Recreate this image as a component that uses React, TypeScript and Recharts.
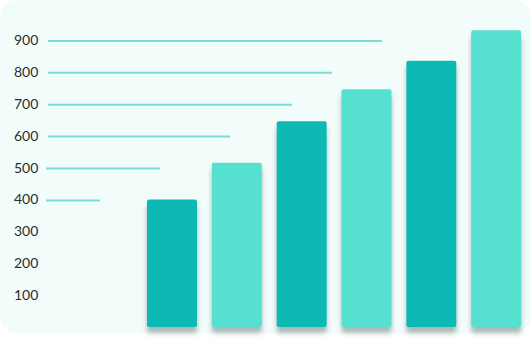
import React from "react";
import { BarChart, Bar, XAxis, YAxis, Cell } from "recharts";

const categories = ["A", "B", "C", "D", "E", "F"];
const values = [400, 515, 645, 745, 835, 930];
const yTicks = [100, 200, 300, 400, 500, 600, 700, 800, 900];

const DARK = "#0bbab3";
const LIGHT = "#57e0d0";
const LINE = "#7ddbd3";

// decorative guide line right ends (px), per tick value
const GUIDE_END: Record<number, number> = {
  900: 382,
  800: 332,
  700: 292,
  600: 230,
  500: 160,
  400: 100,
};
const GUIDE_START: Record<number, number> = {
  900: 48,
  800: 48,
  700: 48,
  600: 48,
  500: 46,
  400: 46,
};

const data = categories.map((c, i) => ({ name: c, value: values[i] }));

const YTick = (props: any) => {
  const { y, payload } = props;
  const v = payload.value as number;
  const end = GUIDE_END[v];
  return (
    <g>
      <text
        x={14}
        y={y}
        dy={5}
        textAnchor="start"
        fontFamily="Lato, 'Open Sans', sans-serif"
        fontSize={14}
        fill="#2e2e2e"
      >
        {v}
      </text>
      {end ? (
        <line x1={GUIDE_START[v]} x2={end} y1={y + 1} y2={y + 1} stroke={LINE} strokeWidth={2} />
      ) : null}
    </g>
  );
};

const ShadowBar = (props: any) => {
  const { x, y, width, height, fill, index } = props;
  const id = `bar-shadow-${index}`;
  return (
    <g>
      <defs>
        <filter id={id} x="-40%" y="-10%" width="180%" height="130%">
          <feDropShadow dx={0} dy={6} stdDeviation={2.5} floodColor="#4f6664" floodOpacity={0.45} />
        </filter>
      </defs>
      <rect x={x} y={y} width={width} height={height} rx={2} ry={2} fill={fill} filter={`url(#${id})`} />
    </g>
  );
};

export default function App() {
  return (
    <div style={{ position: "absolute", left: 0, top: 0, width: 532, height: 348, background: "#ffffff" }}>
      <div
        style={{
          position: "absolute",
          left: 0,
          top: 0,
          width: 531,
          height: 333,
          borderRadius: 17,
          background: "#f2fdfb",
        }}
      />
      <div style={{ position: "absolute", left: 0, top: 0 }}>
        <BarChart
          width={532}
          height={348}
          data={data}
          margin={{ top: 8, right: 3, bottom: 21, left: 0 }}
          barCategoryGap={0}
        >
          <XAxis dataKey="name" hide />
          <YAxis
            width={140}
            domain={[0, 1000]}
            ticks={yTicks}
            axisLine={false}
            tickLine={false}
            tick={<YTick />}
            interval={0}
          />
          <Bar dataKey="value" barSize={50} isAnimationActive={false} shape={<ShadowBar />}>
            {data.map((d, i) => (
              <Cell key={d.name} fill={i % 2 === 0 ? DARK : LIGHT} />
            ))}
          </Bar>
        </BarChart>
      </div>
    </div>
  );
}
